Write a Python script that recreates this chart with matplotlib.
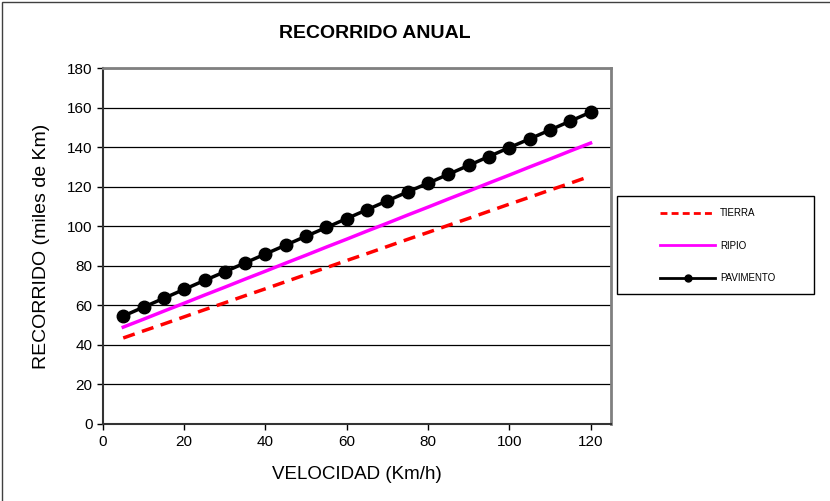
import matplotlib
matplotlib.use("Agg")
import matplotlib.pyplot as plt
from matplotlib.patches import Rectangle

plt.rcParams['font.family'] = ['Liberation Sans', 'DejaVu Sans']

velocidad = [5, 10, 15, 20, 25, 30, 35, 40, 45, 50, 55, 60, 65, 70, 75, 80, 85, 90, 95, 100, 105, 110, 115, 120]
pavimento = [54.6, 59.1, 63.6, 68.1, 72.6, 77.0, 81.5, 86.0, 90.5, 95.0, 99.4, 103.9,
             108.4, 112.9, 117.4, 121.8, 126.3, 130.8, 135.3, 139.8, 144.2, 148.7, 153.2, 157.7]
ripio = [49.0, 53.0, 57.1, 61.1, 65.2, 69.2, 73.3, 77.3, 81.4, 85.4, 89.5, 93.5,
         97.6, 101.6, 105.7, 109.7, 113.8, 117.8, 121.9, 125.9, 130.0, 134.0, 138.1, 142.1]
tierra = [43.5, 47.1, 50.6, 54.2, 57.8, 61.3, 64.9, 68.4, 72.0, 75.6, 79.1, 82.7,
          86.2, 89.8, 93.4, 96.9, 100.5, 104.0, 107.6, 111.2, 114.7, 118.3, 121.8, 125.4]

fig = plt.figure(figsize=(8.30, 5.01), dpi=100)
ax = fig.add_axes([0.124, 0.1537, 0.612, 0.7103])

ax.set_xlim(0, 125)
ax.set_ylim(0, 180)
ax.set_xticks(range(0, 121, 20))
ax.set_yticks(range(0, 181, 20))
ax.yaxis.grid(True, color='black', linewidth=0.9)
ax.set_axisbelow(True)

ax.plot(velocidad, tierra, color='#ff0000', linestyle=(0, (3.5, 2.2)), linewidth=2.5, label='TIERRA')
ax.plot(velocidad, ripio, color='#ff00ff', linewidth=2.5, label='RIPIO')
ax.plot(velocidad, pavimento, color='black', linewidth=2.5, marker='o', markersize=9, label='PAVIMENTO')

for s in ['top', 'right']:
    ax.spines[s].set_color('#808080')
    ax.spines[s].set_linewidth(2)
for s in ['left', 'bottom']:
    ax.spines[s].set_color('#333333')
    ax.spines[s].set_linewidth(1.5)

ax.tick_params(axis='both', direction='out', length=4, width=1, labelsize=11, colors='black')
ax.tick_params(axis='x', pad=4)

ax.set_xlabel('VELOCIDAD (Km/h)', fontsize=13.5, labelpad=12)
ax.set_ylabel('RECORRIDO (miles de Km)', fontsize=14, labelpad=12)
fig.text(0.452, 0.934, 'RECORRIDO ANUAL', ha='center', va='center', fontsize=14, fontweight='bold')

leg_handles = [
    plt.Line2D([], [], color='#ff0000', linestyle=(0, (2.5, 1.5)), linewidth=2),
    plt.Line2D([], [], color='#ff00ff', linewidth=2),
    plt.Line2D([], [], color='black', linewidth=2, marker='o', markersize=5),
]
leg = fig.legend(leg_handles, ['TIERRA', 'RIPIO', 'PAVIMENTO'],
                 loc='upper left', bbox_to_anchor=(0.795, 0.584),
                 fontsize=7, frameon=False,
                 borderpad=0, labelspacing=2.3, handlelength=5.7, handletextpad=0.5,
                 borderaxespad=0)

fig.add_artist(Rectangle((0.7434, 0.4132), 0.2373, 0.1956, transform=fig.transFigure,
                         fill=False, edgecolor='black', linewidth=1))

fig.add_artist(Rectangle((0.0025, -0.01), 1.5, 1.0065, transform=fig.transFigure,
                         fill=False, edgecolor='#404040', linewidth=1))

fig.savefig('out.png', dpi=100)
